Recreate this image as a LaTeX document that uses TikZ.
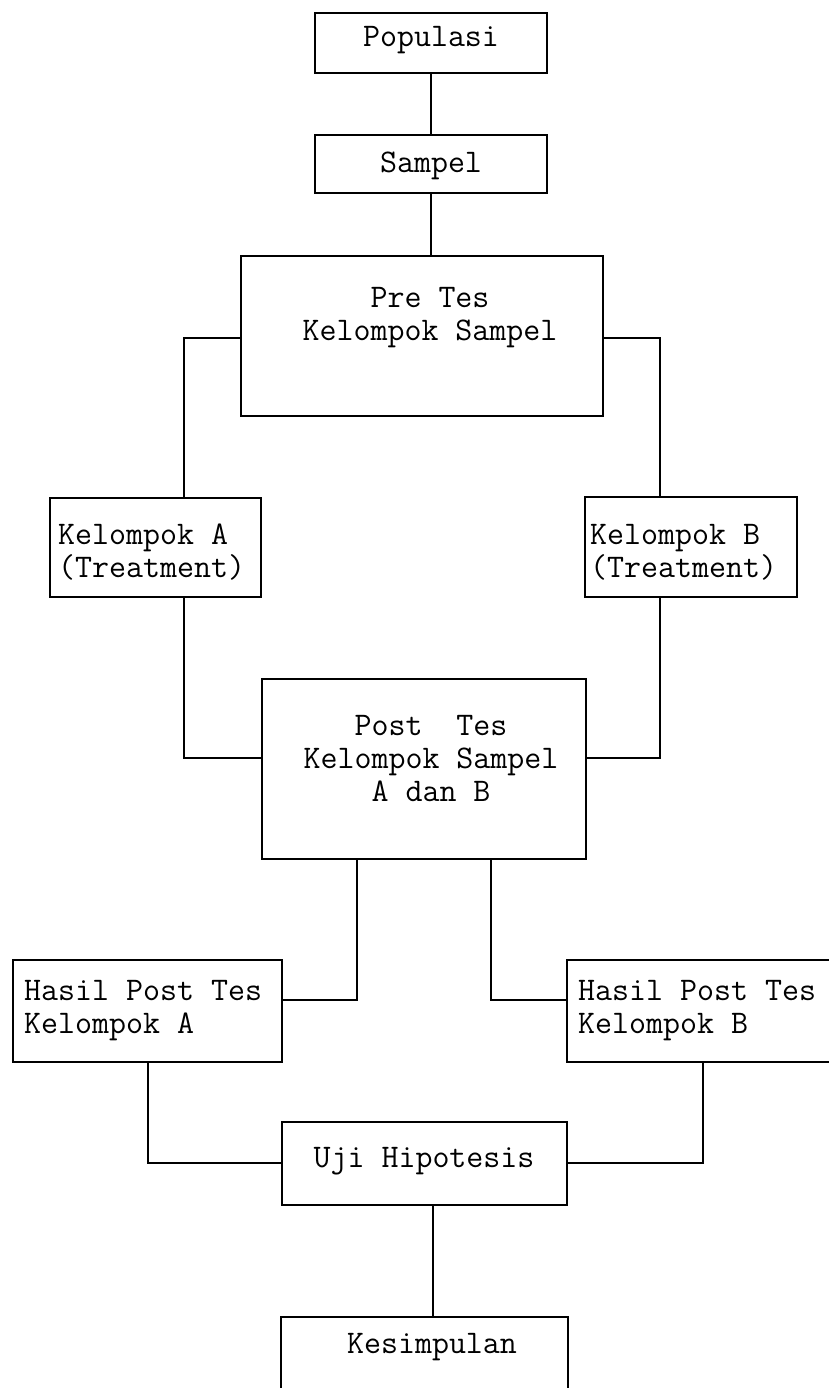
\documentclass[tikz,border=0pt]{standalone}
\usepackage{fontspec}
\begin{document}
\begin{tikzpicture}[x=1pt,y=-1pt,
  box/.style={draw=black, line width=2.9pt, rectangle, inner sep=0pt},
  txt/.style={font=\ttfamily\fontsize{33}{33}\selectfont, inner sep=0pt, align=center},
  ltxt/.style={font=\ttfamily\fontsize{33}{33}\selectfont, inner sep=0pt, align=left, anchor=west},
  conn/.style={draw=black, line width=2.9pt}]
\useasboundingbox (0,0) rectangle (829,1388);
\clip (0,0) rectangle (829,1388);
\fill[white] (0,0) rectangle (829,1388);

% boxes
\node[box, minimum width=232pt, minimum height=60pt] (pop) at (431,43) {};
\node[box, minimum width=232pt, minimum height=58pt] (sam) at (431,164) {};
\node[box, minimum width=362pt, minimum height=160pt] (pre) at (422,336) {};
\node[box, minimum width=211pt, minimum height=99pt] (ka) at (155.5,547.5) {};
\node[box, minimum width=212pt, minimum height=100pt] (kb) at (691,547) {};
\node[box, minimum width=324pt, minimum height=180pt] (post) at (424,769) {};
\node[box, minimum width=269pt, minimum height=102pt] (ha) at (147.5,1011) {};
\node[box, minimum width=273pt, minimum height=102pt] (hb) at (703.5,1011) {};
\node[box, minimum width=285pt, minimum height=83pt] (uji) at (424.5,1163.5) {};
\node[box, minimum width=287pt, minimum height=100pt] (kes) at (424.5,1367) {};

% texts
\node[txt] (tpop) at (431,40) {Populasi};
\node[txt] (tsam) at (431,166) {Sampel};
\node[txt] (tpre) at (430,318) {Pre Tes\\Kelompok Sampel};
\node[ltxt] (tka) at (58,552) {Kelompok A\\(Treatment)};
\node[ltxt] (tkb) at (590,552) {Kelompok B\\(Treatment)};
\node[txt] (tpost) at (431,759) {Post\ \ Tes\\Kelompok Sampel\\A dan B};
\node[ltxt] (tha) at (24,1011) {Hasil Post Tes\\Kelompok A};
\node[ltxt] (thb) at (578,1011) {Hasil Post Tes\\Kelompok B};
\node[txt] (tuji) at (424,1161) {Uji Hipotesis};
\node[txt] (tkes) at (432,1347) {Kesimpulan};

% helper coordinates
\coordinate (la) at (184,338);
\coordinate (lb) at (184,758);
\coordinate (ra) at (660,338);
\coordinate (rb) at (660,758);
\coordinate (pa) at (357,1000);
\coordinate (pb) at (491,1000);
\coordinate (ua) at (148,1163);
\coordinate (ub) at (703,1163);
\coordinate (uk) at (433,0);

% connectors
\draw[conn] (pop.south) -- (sam.north);
\draw[conn] (sam.south) -- (sam.south |- pre.north);
\draw[conn] (pre.west |- la) -- (la) -- (la |- ka.north);
\draw[conn] (pre.east |- ra) -- (ra) -- (ra |- kb.north);
\draw[conn] (la |- ka.south) -- (lb) -- (lb -| post.west);
\draw[conn] (ra |- kb.south) -- (rb) -- (rb -| post.east);
\draw[conn] (pa |- post.south) -- (pa) -- (pa -| ha.east);
\draw[conn] (pb |- post.south) -- (pb) -- (pb -| hb.west);
\draw[conn] (ua |- ha.south) -- (ua) -- (ua -| uji.west);
\draw[conn] (ub |- hb.south) -- (ub) -- (ub -| uji.east);
\draw[conn] (uk |- uji.south) -- (uk |- kes.north);
\end{tikzpicture}
\end{document}
